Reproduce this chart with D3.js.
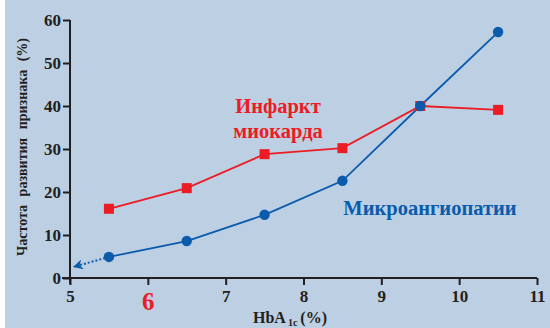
<!DOCTYPE html>
<html><head><meta charset="utf-8">
<script src="https://cdn.jsdelivr.net/npm/d3@7"></script>
<style>
html,body{margin:0;padding:0;background:#fff;}
svg{display:block;}
svg text{font-family:"Liberation Serif","DejaVu Serif","Times New Roman",serif !important;}
</style></head>
<body>
<svg id="c" width="550" height="328"></svg>
<script>
const hba1c = [5.5, 6.5, 7.5, 8.5, 9.5, 10.5];
const infarct = [16.1, 20.9, 28.8, 30.2, 40.0, 39.1];
const micro = [4.9, 8.6, 14.7, 22.6, 40.0, 57.2];
const xTicks = [5, 6, 7, 8, 9, 10, 11];
const yTicks = [0, 10, 20, 30, 40, 50, 60];
const arrowTip = [5.05, 2.6];

const svg = d3.select("#c");
const W = 550, H = 328;
const bg = "#bccfe3", red = "#ec1c24", blue = "#0a5bab", ink = "#231f20";

svg.append("rect").attr("x", 5).attr("y", 0).attr("width", W - 5).attr("height", H).attr("fill", bg);

const x = d3.scaleLinear().domain([5, 11]).range([70, 537]);
const y = d3.scaleLinear().domain([0, 60]).range([278, 20]);

const defs = svg.append("defs");
defs.append("marker").attr("id", "arr").attr("viewBox", "0 0 10 10")
  .attr("refX", 9).attr("refY", 5).attr("markerWidth", 10).attr("markerHeight", 10)
  .attr("markerUnits", "userSpaceOnUse").attr("orient", "auto")
  .append("path").attr("d", "M0,0 L10,5 L0,10 L3,5 Z").attr("fill", blue);

// axes
const xAxis = svg.append("g").attr("transform", `translate(0,${y(0)})`)
  .call(d3.axisBottom(x).tickValues(xTicks).tickFormat(d3.format("d"))
    .tickSize(7).tickSizeOuter(0).tickPadding(5));
const yAxis = svg.append("g").attr("transform", `translate(${x(5)},0)`)
  .call(d3.axisLeft(y).tickValues(yTicks).tickFormat(d3.format("d"))
    .tickSize(7).tickSizeOuter(0).tickPadding(2));
[xAxis, yAxis].forEach(a => {
  a.select(".domain").attr("stroke", ink).attr("stroke-width", 2);
  a.selectAll(".tick line").attr("stroke", ink).attr("stroke-width", 2);
  a.selectAll(".tick text").attr("fill", ink)
    .attr("font-weight", "bold").attr("font-size", 17);
});
xAxis.select(".domain").attr("d", `M${x(5)-8},0H${x(11)}`);
yAxis.select(".domain").attr("d", `M0,${y(0)+6}V${y(60)}`);
xAxis.selectAll(".tick text").filter(d => d === 6)
  .attr("fill", red).attr("font-size", 25).attr("dy", "0.78em");

// lines
const line = d3.line().x((d, i) => x(hba1c[i])).y(d => y(d));
svg.append("path").datum(infarct).attr("d", line).attr("fill", "none")
  .attr("stroke", red).attr("stroke-width", 1.8);
svg.append("path").datum(micro).attr("d", line).attr("fill", "none")
  .attr("stroke", blue).attr("stroke-width", 1.8);

// dotted arrow
svg.append("line").attr("x1", x(hba1c[0])).attr("y1", y(micro[0]))
  .attr("x2", x(arrowTip[0])).attr("y2", y(arrowTip[1]))
  .attr("stroke", blue).attr("stroke-width", 2).attr("stroke-dasharray", "2,2")
  .attr("marker-end", "url(#arr)");

// markers
svg.selectAll(".sq").data(infarct).join("rect")
  .attr("x", (d, i) => x(hba1c[i]) - 5).attr("y", d => y(d) - 5)
  .attr("width", 10).attr("height", 10).attr("fill", red);
svg.selectAll(".ci").data(micro).join("circle")
  .attr("cx", (d, i) => x(hba1c[i])).attr("cy", d => y(d)).attr("r", 5.2).attr("fill", blue);

// annotations
const t1 = svg.append("text").attr("x", 278).attr("y", 113).attr("text-anchor", "middle")
  .attr("fill", red).attr("font-weight", "bold").attr("font-size", 20.5);
t1.append("tspan").attr("x", 278).text("Инфаркт");
t1.append("tspan").attr("x", 278).attr("dy", 25).text("миокарда");

svg.append("text").attr("x", 430).attr("y", 215).attr("text-anchor", "middle")
  .attr("fill", blue).attr("font-weight", "bold").attr("font-size", 20.5)
  .text("Микроангиопатии");

// axis titles
const xt = svg.append("text").attr("x", 290).attr("y", 323).attr("text-anchor", "middle")
  .attr("fill", ink).attr("font-weight", "bold").attr("font-size", 16);
xt.append("tspan").text("HbA");
xt.append("tspan").attr("font-size", 10).attr("dy", 3).attr("dx", 2).text("1c");
xt.append("tspan").attr("dy", -3).attr("dx", 3).text("(%)");

svg.append("text").attr("transform", "translate(27,147) rotate(-90)").attr("text-anchor", "middle")
  .attr("fill", ink).attr("font-weight", "bold").attr("font-size", 14)
  .attr("word-spacing", 5)
  .text("Частота развития признака (%)");
</script>
</body></html>
